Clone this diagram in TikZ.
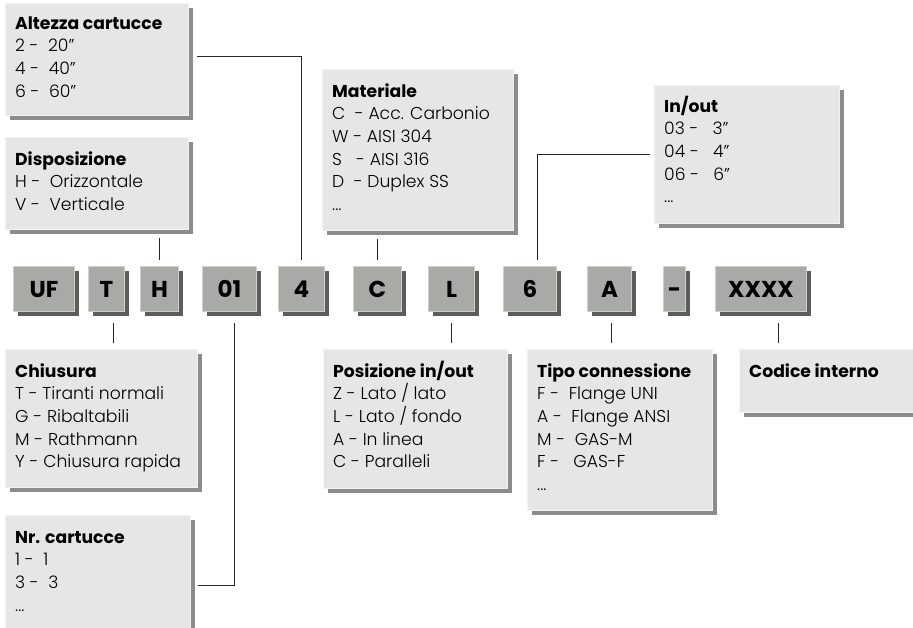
\documentclass[tikz,border=0pt]{standalone}
\usepackage{fontspec}
\setmainfont{Poppins}[UprightFont={* Light}, BoldFont={* Bold}]
\usetikzlibrary{shadows}
\definecolor{descfill}{HTML}{E6E6E6}
\definecolor{descshadow}{HTML}{8C8C8C}
\definecolor{descedge}{HTML}{F2F2F2}
\definecolor{codefill}{HTML}{A8AAA5}
\definecolor{codeshadow}{HTML}{5C5C5C}
\definecolor{codeedge}{HTML}{CFD0CD}
\newcommand{\dtext}[1]{\parbox[t]{190pt}{\fontsize{17.2}{22.7}\selectfont\raggedright #1}}
\newcommand{\ttl}[1]{{\fontsize{17.2}{22.7}\selectfont\bfseries #1}}
\begin{document}
\begin{tikzpicture}[x=1pt,y=-1pt,
 descbox/.style={rectangle, anchor=north west, inner sep=0, fill=descfill, draw=descedge, line width=1pt,
   drop shadow={shadow xshift=4pt, shadow yshift=-4pt, fill=descshadow, opacity=1}},
 codebox/.style={rectangle, anchor=north west, inner sep=0, fill=codefill, draw=codeedge, line width=1pt,
   minimum height=45pt, text height=16pt, text depth=0pt, font=\fontsize{23}{27}\selectfont\bfseries,
   drop shadow={shadow xshift=4pt, shadow yshift=-4pt, fill=codeshadow, opacity=1}},
 desclabel/.style={anchor=base west, inner sep=0},
 conn/.style={draw=black!85, line width=0.8pt}
]
\useasboundingbox (0,0) rectangle (913,627);
\clip (0,0) rectangle (913,627);

% description boxes
\node[descbox, minimum width=183pt, minimum height=112pt] (alt) at (5,3) {};
\node[descbox, minimum width=183pt, minimum height=92pt] (disp) at (5,137) {};
\node[descbox, minimum width=191pt, minimum height=161pt] (mat) at (322,69) {};
\node[descbox, minimum width=185pt, minimum height=138pt] (inout) at (654,85) {};
\node[descbox, minimum width=192pt, minimum height=138pt] (chius) at (5,349) {};
\node[descbox, minimum width=185pt, minimum height=140pt] (nr) at (5,515) {};
\node[descbox, minimum width=184pt, minimum height=139pt] (pos) at (323,349) {};
\node[descbox, minimum width=185pt, minimum height=161pt] (tipo) at (527,349) {};
\node[descbox, minimum width=181pt, minimum height=63pt] (cod) at (739,349) {};

\node[desclabel] (altT) at ([xshift=10pt,yshift=-26pt]alt.north west)
  {\dtext{\ttl{Altezza cartucce}\\2 -\ \ 20”\\4 -\ \ 40”\\6 -\ \ 60”}};
\node[desclabel] (dispT) at ([xshift=10pt,yshift=-28pt]disp.north west)
  {\dtext{\ttl{Disposizione}\\H -\ \ Orizzontale\\V -\ \ Verticale}};
\node[desclabel] (matT) at ([xshift=10pt,yshift=-28pt]mat.north west)
  {\dtext{\ttl{Materiale}\\C\ \ - Acc. Carbonio\\W - AISI 304\\S\ \ \ - AISI 316\\D\ \ - Duplex SS\\...}};
\node[desclabel] (inoutT) at ([xshift=10pt,yshift=-27pt]inout.north west)
  {\dtext{\ttl{In/out}\\03 -\ \ \ 3”\\04 -\ \ \ 4”\\06 -\ \ \ 6”\\...}};
\node[desclabel] (chiusT) at ([xshift=10pt,yshift=-28pt]chius.north west)
  {\dtext{\ttl{Chiusura}\\T - Tiranti normali\\G - Ribaltabili\\M - Rathmann\\Y - Chiusura rapida}};
\node[desclabel] (nrT) at ([xshift=10pt,yshift=-28pt]nr.north west)
  {\dtext{\ttl{Nr. cartucce}\\1 -\ \ 1\\3 -\ \ 3\\...}};
\node[desclabel] (posT) at ([xshift=10pt,yshift=-28pt]pos.north west)
  {\dtext{\ttl{Posizione in/out}\\Z - Lato / lato\\L - Lato / fondo\\A - In linea\\C - Paralleli}};
\node[desclabel] (tipoT) at ([xshift=10pt,yshift=-28pt]tipo.north west)
  {\dtext{\ttl{Tipo connessione}\\F -\ \ Flange UNI\\A -\ \ Flange ANSI\\M -\ \ GAS-M\\F -\ \ \ GAS-F\\...}};
\node[desclabel] (codT) at ([xshift=10pt,yshift=-28pt]cod.north west)
  {\dtext{\ttl{Codice interno}}};

% code boxes
\node[codebox, minimum width=61pt] (cUF) at (13,266) {UF};
\node[codebox, minimum width=36pt] (cT) at (88,266) {T};
\node[codebox, minimum width=38pt] (cH) at (140,266) {H};
\node[codebox, minimum width=54pt] (c01) at (202,266) {01};
\node[codebox, minimum width=46pt] (c4) at (278,266) {4};
\node[codebox, minimum width=48pt] (cC) at (353,266) {C};
\node[codebox, minimum width=46pt] (cL) at (428,266) {L};
\node[codebox, minimum width=53pt] (c6) at (503,266) {6};
\node[codebox, minimum width=44pt] (cA) at (587,266) {A};
\node[codebox, minimum width=22pt] (cDash) at (663,266) {-};
\node[codebox, minimum width=91pt] (cX) at (715,266) {XXXX};

% connector anchor points
\coordinate (tH) at ([yshift=6pt]cH.north);
\coordinate (t4) at ([yshift=6pt]c4.north);
\coordinate (tC) at ([yshift=6pt]cC.north);
\coordinate (t6) at ([xshift=7pt,yshift=6pt]c6.north);
\coordinate (bT) at ([xshift=7pt,yshift=-11pt]cT.south);
\coordinate (b01) at ([xshift=5pt,yshift=-11pt]c01.south);
\coordinate (bL) at ([yshift=-11pt]cL.south);
\coordinate (bA) at ([xshift=2pt,yshift=-11pt]cA.south);
\coordinate (bX) at ([xshift=17pt,yshift=-11pt]cX.south);

% connectors
\draw[conn] ([yshift=-8pt]disp.south -| tH) -- (tH);
\draw[conn] ([xshift=8pt,yshift=3pt]alt.east) -| (t4);
\draw[conn] ([yshift=-8pt]mat.south -| tC) -- (tC);
\draw[conn] ([xshift=-4pt]inout.west) -| (t6);
\draw[conn] (bT) -- ([yshift=6pt]chius.north -| bT);
\draw[conn] (b01) |- ([xshift=7pt]nr.east);
\draw[conn] (bL) -- ([yshift=6pt]pos.north -| bL);
\draw[conn] (bA) -- ([yshift=6pt]tipo.north -| bA);
\draw[conn] (bX) -- ([yshift=6pt]cod.north -| bX);
\end{tikzpicture}
\end{document}
